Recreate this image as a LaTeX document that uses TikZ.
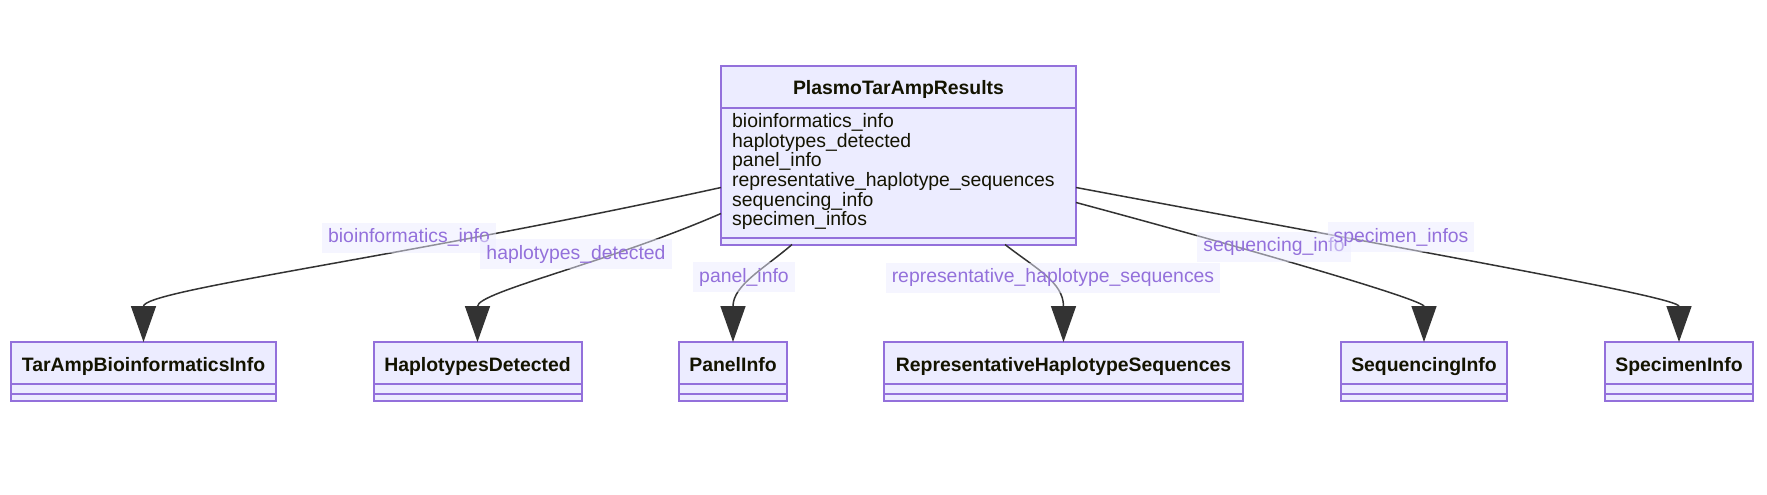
\documentclass[tikz,border=0pt]{standalone}
\usepackage{fontspec}
\setmainfont{Liberation Sans}
\usetikzlibrary{arrows.meta}

\definecolor{classfill}{HTML}{ECECFF}
\definecolor{classline}{HTML}{9370DB}
\definecolor{edgeline}{HTML}{333333}
\definecolor{nametext}{HTML}{131300}

\begin{document}
\begin{tikzpicture}[x=1pt, y=-1pt,
                        classbox/.style={
                            draw=classline,
                            fill=classfill,
                            line width=2pt,
                            inner sep=0pt,
                            outer sep=0pt
                        },
                        classname/.style={
                            classbox,
                            minimum height=41.5pt,
                            text height=16.5pt,
                            text depth=0pt,
                            text=nametext,
                            font=\fontsize{19.4}{19.6}\selectfont\bfseries
                        },
                        members/.style={
                            inner sep=0pt,
                            align=left,
                            text=nametext,
                            font=\fontsize{19.4}{19.6}\selectfont
                        },
                        assoc/.style={
                            draw=edgeline,
                            line width=1.5pt,
                            -{Triangle[length=36pt, width=25pt]}
                        },
                        edgelabel/.style={
                            fill=classfill,
                            fill opacity=0.5,
                            text opacity=1,
                            text=classline,
                            inner xsep=6pt,
                            inner ysep=5.5pt,
                            text height=14.5pt,
                            text depth=4.5pt,
                            font=\fontsize{19.4}{19.6}\selectfont
                        }
                    ]

                    \useasboundingbox (0,0) rectangle (1767,495);

                    % PlasmoTarAmpResults (top, centre)
                    \node[classname, minimum width=355pt, anchor=north]
                        (main) at (898.5,66) {PlasmoTarAmpResults};
                    \node[classbox, minimum width=355pt, minimum height=130pt, anchor=north]
                        (mainattr) at (main.south) {};
                    \node[classbox, minimum width=355pt, minimum height=7pt, anchor=north]
                        (mainops) at (mainattr.south) {};
                    \node[members, anchor=north west] (mainmembers)
                        at ([xshift=11pt, yshift=-6pt] mainattr.north west)
                        {bioinformatics\_info\\haplotypes\_detected\\panel\_info\\%
                         representative\_haplotype\_sequences\\sequencing\_info\\specimen\_infos};

                    % TarAmpBioinformaticsInfo
                    \node[classname, minimum width=265pt, anchor=north]
                        (taramp) at (143.5,342) {TarAmpBioinformaticsInfo};
                    \node[classbox, minimum width=265pt, minimum height=10pt, anchor=north]
                        (tarampattr) at (taramp.south) {};
                    \node[classbox, minimum width=265pt, minimum height=7.5pt, anchor=north]
                        (tarampops) at (tarampattr.south) {};

                    % HaplotypesDetected
                    \node[classname, minimum width=208pt, anchor=north]
                        (haplo) at (477.5,342) {HaplotypesDetected};
                    \node[classbox, minimum width=208pt, minimum height=10pt, anchor=north]
                        (haploattr) at (haplo.south) {};
                    \node[classbox, minimum width=208pt, minimum height=7.5pt, anchor=north]
                        (haploops) at (haploattr.south) {};

                    % PanelInfo
                    \node[classname, minimum width=108pt, anchor=north]
                        (panel) at (733,342) {PanelInfo};
                    \node[classbox, minimum width=108pt, minimum height=10pt, anchor=north]
                        (panelattr) at (panel.south) {};
                    \node[classbox, minimum width=108pt, minimum height=7.5pt, anchor=north]
                        (panelops) at (panelattr.south) {};

                    % RepresentativeHaplotypeSequences
                    \node[classname, minimum width=358.5pt, anchor=north]
                        (repseq) at (1063.5,342) {RepresentativeHaplotypeSequences};
                    \node[classbox, minimum width=358.5pt, minimum height=10pt, anchor=north]
                        (repseqattr) at (repseq.south) {};
                    \node[classbox, minimum width=358.5pt, minimum height=7.5pt, anchor=north]
                        (repseqops) at (repseqattr.south) {};

                    % SequencingInfo
                    \node[classname, minimum width=166.5pt, anchor=north]
                        (seqinfo) at (1424,342) {SequencingInfo};
                    \node[classbox, minimum width=166.5pt, minimum height=10pt, anchor=north]
                        (seqinfoattr) at (seqinfo.south) {};
                    \node[classbox, minimum width=166.5pt, minimum height=7.5pt, anchor=north]
                        (seqinfoops) at (seqinfoattr.south) {};

                    % SpecimenInfo
                    \node[classname, minimum width=148pt, anchor=north]
                        (specimen) at (1679,342) {SpecimenInfo};
                    \node[classbox, minimum width=148pt, minimum height=10pt, anchor=north]
                        (specimenattr) at (specimen.south) {};
                    \node[classbox, minimum width=148pt, minimum height=7.5pt, anchor=north]
                        (specimenops) at (specimenattr.south) {};

                    % Associations
                    \draw[assoc] ([yshift=-15pt] mainattr.west)
                        .. controls (400,258) and (143.5,290) .. (taramp.north);
                    \draw[assoc] ([yshift=-41pt] mainattr.west)
                        .. controls (610,262) and (477.5,292) .. (haplo.north);
                    \draw[assoc] ([xshift=-106.5pt] mainops.south)
                        .. controls (765,268) and (733,285) .. (panel.north);
                    \draw[assoc] ([xshift=106.5pt] mainops.south)
                        .. controls (1035,268) and (1063.5,282) .. (repseq.north);
                    \draw[assoc] ([yshift=-30pt] mainattr.east)
                        .. controls (1260,252) and (1424,300) .. (seqinfo.north);
                    \draw[assoc] ([yshift=-15pt] mainattr.east)
                        .. controls (1420,252) and (1679,297) .. (specimen.north);

                    % Edge labels
                    \node[edgelabel] (lblbio) at (409,237.5) {bioinformatics\_info};
                    \node[edgelabel] (lblhaplo) at (576,254) {haplotypes\_detected};
                    \node[edgelabel] (lblpanel) at (744,277) {panel\_info};
                    \node[edgelabel] (lblrepseq) at (1053,277.5) {representative\_haplotype\_sequences};
                    \node[edgelabel] (lblseq) at (1274,246.5) {sequencing\_info};
                    \node[edgelabel] (lblspecimen) at (1401,237) {specimen\_infos};
                    \end{tikzpicture}
\end{document}
